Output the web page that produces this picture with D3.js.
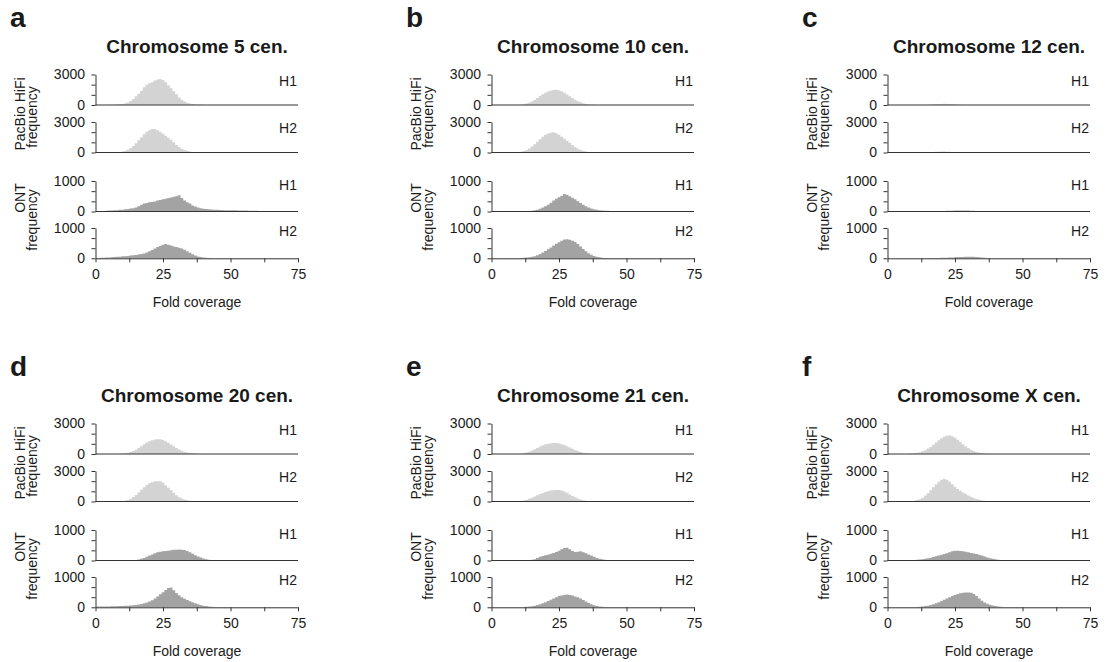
<!DOCTYPE html>
<html>
<head>
<meta charset="utf-8">
<script src="https://cdn.jsdelivr.net/npm/d3@7"></script>
<style>
  body { margin: 0; background: #fff; }
  svg { display: block; }
  text { font-family: Arial, "Liberation Sans", Helvetica, sans-serif; fill: #1a1a1a; }
</style>
</head>
<body>
<svg id="chart" width="1106" height="662"></svg>
<script>
// fold coverage histograms, index = coverage bin (1x wide, centred on the integer)
var chr5HifiH1 = [0,0,0,0,0,10,20,30,50,70,100,150,250,400,600,850,1100,1400,1750,2000,2150,2250,2400,2500,2550,2450,2250,1950,1650,1350,1050,750,520,350,230,150,100,60,40,25,15];
var chr5HifiH2 = [0,0,0,0,0,10,15,25,40,60,100,170,280,420,650,900,1200,1500,1800,2050,2200,2300,2300,2200,2050,1850,1650,1450,1250,1000,750,550,380,250,160,100,60,40,25,15,10];
var chr5OntH1 = [5,10,15,20,25,30,35,40,45,55,60,70,80,95,110,130,170,220,260,280,300,310,330,360,380,400,420,440,460,480,500,530,440,360,300,260,200,160,130,110,90,80,70,65,60,55,50,50,45,45,40,40,38,36,34,32,30,28,26,24,22,20,18,16,10,5];
var chr5OntH2 = [5,10,15,20,25,30,35,40,50,55,65,70,80,90,100,110,125,140,160,190,230,270,320,370,410,450,470,450,420,390,370,350,320,280,230,180,130,90,60,40,25,15,10,6,3];

var chr10HifiH1 = [0,0,0,0,0,0,0,0,0,0,10,30,70,150,250,350,500,700,880,1050,1200,1320,1420,1480,1500,1450,1350,1200,1030,850,680,520,380,260,170,100,60,30,15];
var chr10HifiH2 = [0,0,0,0,0,0,0,0,10,20,40,80,150,250,400,600,800,1050,1300,1550,1750,1880,1950,1980,1900,1750,1550,1350,1150,950,750,550,380,250,160,100,60,35,20,10,5];
var chr10OntH1 = [0,0,0,0,0,0,0,0,0,0,0,0,0,5,15,25,40,60,90,130,170,220,290,360,420,470,520,570,550,500,450,400,340,280,220,170,130,100,75,55,40,30,25,22,20,18,16,14,12,8,4];
var chr10OntH2 = [0,0,0,0,0,0,0,0,0,0,5,10,15,25,35,50,70,100,140,190,240,300,360,420,480,530,580,620,630,610,580,540,470,390,310,230,170,120,80,55,35,22,14,8,4];

var chr12HifiH1 = [0,0,0,0,0,0,0,0,0,0,0,0,0,0,10,20,40,60,80,100,110,120,110,100,80,60,40,20,10];
var chr12HifiH2 = [0,0,0,0,0,0,0,0,0,0,0,0,0,0,10,15,30,50,70,80,90,90,85,75,60,45,30,15,8];
var chr12OntH1 = [20,18,15,12,10,10,8,8,8,8,8,8,8,8,10,10,12,12,14,16,18,20,22,25,28,30,32,34,34,32,30,28,25,20,15,10,6,3];
var chr12OntH2 = [0,0,0,0,0,0,0,0,0,0,0,0,0,0,0,5,6,8,10,12,15,18,22,26,30,35,40,42,45,48,50,50,48,42,35,25,15,8,4];

var chr20HifiH1 = [0,0,0,0,0,0,0,0,10,20,40,70,120,200,300,420,580,760,950,1120,1260,1360,1420,1450,1440,1370,1250,1100,930,760,600,450,320,220,150,100,65,40,25,15,8];
var chr20HifiH2 = [0,0,0,0,0,0,0,0,0,10,30,70,150,270,450,650,880,1150,1400,1620,1800,1900,1980,2000,1980,1850,1600,1350,1100,850,620,430,290,190,120,75,45,25,15,8,4];
var chr20OntH1 = [0,0,0,0,0,0,0,0,0,0,0,0,0,5,10,20,35,55,85,120,160,200,240,270,290,300,310,320,335,350,355,360,355,345,310,270,220,170,130,95,65,40,25,15,8,4];
var chr20OntH2 = [20,25,25,28,30,30,32,35,38,40,45,50,55,60,70,80,95,110,130,160,190,230,290,360,430,500,570,640,650,560,470,400,330,280,240,200,165,130,100,75,55,40,28,18,10,5];

var chr21HifiH1 = [0,0,0,0,0,0,0,0,0,0,10,30,70,140,230,340,460,600,740,860,950,1020,1060,1080,1080,1040,970,880,770,650,520,400,290,200,130,80,45,25,10];
var chr21HifiH2 = [0,0,0,0,0,0,0,0,0,10,25,50,100,170,260,370,490,610,730,840,930,1010,1070,1110,1130,1120,1070,980,850,700,550,410,290,190,120,75,45,25,12,5];
var chr21OntH1 = [0,0,0,0,0,0,0,0,0,0,0,0,0,5,10,25,45,80,120,150,170,190,220,250,280,320,370,410,420,370,310,280,290,300,270,240,200,160,120,85,60,40,25,15,8,4];
var chr21OntH2 = [0,0,0,0,0,0,0,0,0,0,0,5,10,15,25,35,50,75,100,130,170,210,250,290,330,370,390,410,420,410,390,360,330,290,240,190,140,100,65,40,25,15,8,4];

var chrXHifiH1 = [0,0,0,0,0,0,0,10,20,40,70,110,170,260,380,530,700,900,1120,1350,1550,1700,1800,1820,1750,1600,1400,1170,950,740,560,410,290,200,135,90,60,35,20,10,5];
var chrXHifiH2 = [0,0,0,0,0,0,0,10,20,40,80,140,230,380,580,820,1100,1400,1700,1950,2150,2230,2150,1950,1700,1450,1230,1050,880,730,590,460,340,240,170,110,70,40,25,12,5];
var chrXOntH1 = [0,0,0,0,0,5,8,10,12,15,18,22,30,40,55,70,90,115,140,165,190,210,240,270,300,320,320,310,300,290,270,250,230,210,185,160,130,100,75,55,40,25,15,8,4];
var chrXOntH2 = [0,0,0,0,0,0,0,0,0,0,5,10,15,25,40,55,75,100,130,170,210,250,290,330,370,410,440,460,480,485,485,480,440,370,290,220,160,120,85,60,40,25,15,8,4];

var panelLetters = ["a", "b", "c", "d", "e", "f"];
var panelTitles = ["Chromosome 5 cen.", "Chromosome 10 cen.", "Chromosome 12 cen.",
                   "Chromosome 20 cen.", "Chromosome 21 cen.", "Chromosome X cen."];
var panelSeries = [
  [chr5HifiH1, chr5HifiH2, chr5OntH1, chr5OntH2],
  [chr10HifiH1, chr10HifiH2, chr10OntH1, chr10OntH2],
  [chr12HifiH1, chr12HifiH2, chr12OntH1, chr12OntH2],
  [chr20HifiH1, chr20HifiH2, chr20OntH1, chr20OntH2],
  [chr21HifiH1, chr21HifiH2, chr21OntH1, chr21OntH2],
  [chrXHifiH1, chrXHifiH2, chrXOntH1, chrXOntH2]
];
var haplotypes = ["H1", "H2", "H1", "H2"];
var yMax = [3000, 3000, 1000, 1000];
var xTicks = [0, 12.5, 25, 37.5, 50, 62.5, 75];
var xLabelled = [0, 25, 50, 75];

// layout
var colStep = 396, rowStep = 349;
var rows = [
  {top: 74.5, base: 105,   label: 86,    fill: "#d3d3d3"},
  {top: 122,  base: 152.5, label: 132.7, fill: "#d3d3d3"},
  {top: 181,  base: 211.5, label: 190,   fill: "#a3a3a3"},
  {top: 228,  base: 258.3, label: 236,   fill: "#a3a3a3"}
];
var axisColor = "#333";
var font = 'Arial, "Liberation Sans", Helvetica, sans-serif';

var svg = d3.select("#chart");
var x = d3.scaleLinear().domain([0, 75]).range([95.5, 298]);

function styleAxis(g) {
  g.attr("font-family", font).attr("font-size", 14);
  g.selectAll("path, line").attr("stroke", axisColor).attr("stroke-width", 1);
  g.selectAll("text").attr("fill", "#1a1a1a");
}

panelSeries.forEach(function(series, p) {
  var g = svg.append("g")
    .attr("transform", "translate(" + (p % 3) * colStep + "," + Math.floor(p / 3) * rowStep + ")");

  g.append("text").attr("x", 10).attr("y", 27)
    .attr("font-size", 28).attr("font-weight", "bold")
    .text(panelLetters[p]);

  g.append("text").attr("x", 197).attr("y", 52.7)
    .attr("text-anchor", "middle")
    .attr("font-size", 19).attr("font-weight", "bold")
    .text(panelTitles[p]);

  series.forEach(function(counts, r) {
    var row = rows[r];
    var y = d3.scaleLinear().domain([0, yMax[r]]).range([row.base, row.top]);

    var pts = counts.map(function(c, k) { return [Math.max(k - 0.5, 0), c]; });
    pts.push([counts.length - 0.5, 0]);

    var area = d3.area()
      .x(function(d) { return x(d[0]); })
      .y0(row.base)
      .y1(function(d) { return y(Math.min(d[1], yMax[r])); })
      .curve(d3.curveStepAfter);

    g.append("path").datum(pts)
      .attr("d", area)
      .attr("fill", row.fill);

    if (r < 3) {
      g.append("line")
        .attr("x1", x(0)).attr("x2", x(75))
        .attr("y1", row.base).attr("y2", row.base)
        .attr("stroke", axisColor);
    } else {
      g.append("g")
        .attr("transform", "translate(0," + row.base + ")")
        .call(d3.axisBottom(x)
          .tickValues(xTicks)
          .tickFormat(function(d) { return xLabelled.indexOf(d) >= 0 ? d : ""; })
          .tickSize(4).tickSizeOuter(0).tickPadding(7))
        .call(styleAxis);
    }

    g.append("g")
      .attr("transform", "translate(" + x(0) + ",0)")
      .call(d3.axisLeft(y)
        .tickValues(d3.range(0, yMax[r] + 1, yMax[r] / 3))
        .tickFormat(function(d) { return (d === 0 || d === yMax[r]) ? d : ""; })
        .tickSize(4).tickSizeOuter(0).tickPadding(6.5))
      .call(styleAxis);

    g.append("text")
      .attr("x", 297).attr("y", row.label)
      .attr("text-anchor", "end").attr("font-size", 14)
      .text(haplotypes[r]);
  });

  // y titles
  g.append("text")
    .attr("transform", "translate(25,114) rotate(-90)")
    .attr("text-anchor", "middle").attr("font-size", 14)
    .text("PacBio HiFi");
  g.append("text")
    .attr("transform", "translate(37,117) rotate(-90)")
    .attr("text-anchor", "middle").attr("font-size", 14)
    .text("frequency");
  g.append("text")
    .attr("transform", "translate(25,198) rotate(-90)")
    .attr("text-anchor", "middle").attr("font-size", 14)
    .text("ONT");
  g.append("text")
    .attr("transform", "translate(37,220) rotate(-90)")
    .attr("text-anchor", "middle").attr("font-size", 14)
    .text("frequency");

  g.append("text").attr("x", 197).attr("y", 307)
    .attr("text-anchor", "middle").attr("font-size", 14)
    .text("Fold coverage");
});
</script>
</body>
</html>
